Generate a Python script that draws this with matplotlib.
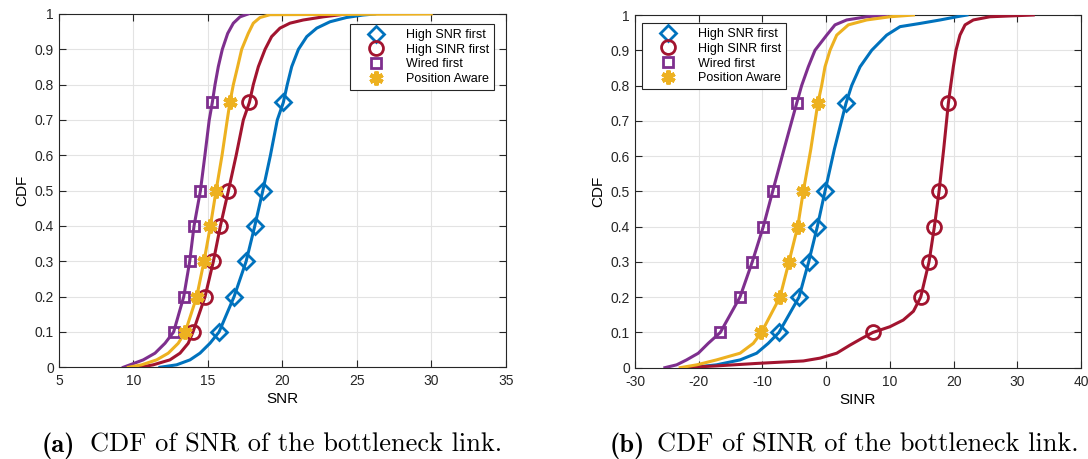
import matplotlib
matplotlib.use("Agg")
import matplotlib.pyplot as plt
import numpy as np

# CDF levels where markers are drawn
marker_levels = [0.1, 0.2, 0.3, 0.4, 0.5, 0.75]

# (a) SNR curves: x values and cdf values
snr_blue_x = [11.78, 12.9, 13.8, 14.47, 15.14, 15.75, 16.76, 17.57, 18.15, 18.69, 19.2, 19.66, 20.07,
              20.33, 20.63, 21.08, 21.64, 22.31, 23.2, 24.3, 25.4, 26.2]
snr_blue_y = [0.0, 0.007, 0.021, 0.04, 0.068, 0.1, 0.2, 0.3, 0.4, 0.5, 0.6, 0.7, 0.75,
              0.8, 0.851, 0.9, 0.936, 0.96, 0.978, 0.99, 0.997, 1.0]
snr_red_x = [10.44, 11.33, 12.45, 13.13, 13.68, 14.0, 14.81, 15.37, 15.84, 16.38, 16.9, 17.38, 17.79,
             18.05, 18.39, 18.84, 19.28, 19.84, 20.51, 21.4, 22.75, 24.3]
snr_red_y = [0.0, 0.007, 0.021, 0.04, 0.068, 0.1, 0.2, 0.3, 0.4, 0.5, 0.6, 0.7, 0.75,
             0.8, 0.851, 0.9, 0.936, 0.96, 0.974, 0.983, 0.992, 1.0]
snr_purple_x = [9.32, 9.77, 10.66, 11.45, 12.12, 12.7, 13.38, 13.78, 14.07, 14.5, 14.8, 15.09, 15.3,
                15.48, 15.7, 15.97, 16.33, 16.71, 17.16, 17.7]
snr_purple_y = [0.0, 0.007, 0.021, 0.04, 0.068, 0.1, 0.2, 0.3, 0.4, 0.5, 0.6, 0.7, 0.75,
                0.8, 0.851, 0.9, 0.945, 0.974, 0.992, 1.0]
snr_yellow_x = [9.66, 10.55, 11.56, 12.34, 13.01, 13.48, 14.25, 14.74, 15.17, 15.55, 15.95, 16.3, 16.48,
                16.71, 17.0, 17.27, 17.71, 18.05, 18.5, 19.17, 30.0]
snr_yellow_y = [0.0, 0.007, 0.021, 0.04, 0.068, 0.1, 0.2, 0.3, 0.4, 0.5, 0.6, 0.7, 0.75,
                0.8, 0.851, 0.9, 0.945, 0.974, 0.99, 0.998, 1.0]

# (b) SINR curves
sinr_blue_x = [-21.4, -17.2, -13.5, -10.9, -9.08, -7.4, -4.26, -2.74, -1.38, -0.18, 1.3, 3.12,
               4.01, 5.32, 7.15, 9.5, 11.6, 14.7, 17.9, 20.5, 22.1]
sinr_blue_y = [0.0, 0.008, 0.022, 0.041, 0.069, 0.1, 0.2, 0.3, 0.4, 0.5, 0.62, 0.75,
               0.8, 0.853, 0.9, 0.943, 0.967, 0.976, 0.986, 0.995, 1.0]
sinr_red_x = [-22.4, -17.2, -10.9, -3.58, -0.96, 1.66, 3.75, 5.6, 7.35, 10.0, 12.1, 13.7, 14.84,
              16.15, 16.99, 17.72, 18.45, 19.18, 19.55, 19.96, 20.38, 21.0, 21.8, 23.1, 25.7, 32.5]
sinr_red_y = [0.0, 0.005, 0.012, 0.019, 0.027, 0.041, 0.064, 0.083, 0.1, 0.116, 0.135, 0.16, 0.2,
              0.3, 0.4, 0.5, 0.62, 0.75, 0.8, 0.853, 0.9, 0.943, 0.972, 0.986, 0.995, 1.0]
sinr_purple_x = [-25.3, -23.46, -21.9, -20.06, -18.5, -16.6, -13.52, -11.59, -9.86, -8.39, -6.6, -4.62,
                 -3.84, -2.8, -1.75, 0.09, 1.39, 3.23, 6.37, 9.5]
sinr_purple_y = [0.0, 0.008, 0.022, 0.041, 0.069, 0.1, 0.2, 0.3, 0.4, 0.5, 0.62, 0.75,
                 0.8, 0.853, 0.9, 0.943, 0.972, 0.986, 0.995, 1.0]
sinr_yellow_x = [-22.9, -20.3, -17.2, -13.5, -11.43, -10.15, -7.24, -5.83, -4.46, -3.58, -2.4, -1.3,
                 -0.7, -0.18, 0.61, 1.66, 3.48, 6.37, 10.0, 13.7]
sinr_yellow_y = [0.0, 0.008, 0.022, 0.041, 0.069, 0.1, 0.2, 0.3, 0.4, 0.5, 0.62, 0.75,
                 0.8, 0.853, 0.9, 0.943, 0.972, 0.986, 0.995, 1.0]

series_names = ["High SNR first", "High SINR first", "Wired first", "Position Aware"]
colors = ["#0072BD", "#A2142F", "#7E2F8E", "#EDB120"]
markers = ["D", "o", "s", (6, 2, 0)]
msizes = [8, 10, 7, 10]
mews = [2.0, 2.0, 2.0, 3.0]

plt.rcParams['font.family'] = ['Liberation Sans', 'DejaVu Sans']
plt.rcParams['axes.unicode_minus'] = False

fig = plt.figure(figsize=(10.88, 4.59), dpi=100)
ax1 = fig.add_axes([0.0542, 0.1998, 0.4106, 0.7697])
ax2 = fig.add_axes([0.5836, 0.1990, 0.4100, 0.7683])


def draw_panel(ax, curves, xlim, xticks, xlabel, leg_loc, leg_anchor):
    for i, (cx, cy) in enumerate(curves):
        ax.plot(cx, cy, color=colors[i], lw=2.2, zorder=3, solid_joinstyle='round')
    for i, (cx, cy) in enumerate(curves):
        mx = np.interp(marker_levels, cy, cx)
        ax.plot(mx, marker_levels, linestyle='none', marker=markers[i],
                markersize=msizes[i], markerfacecolor='none' if i < 3 else colors[i],
                markeredgecolor=colors[i], markeredgewidth=mews[i],
                label=series_names[i], zorder=4)
    ax.set_xlim(xlim)
    ax.set_ylim(0, 1)
    ax.set_xticks(xticks)
    ax.set_yticks(np.arange(0, 1.01, 0.1))
    ax.set_yticklabels(['0'] + ['%.1f' % v for v in np.arange(0.1, 0.95, 0.1)] + ['1'])
    ax.grid(True, color='#e3e3e3', lw=0.8)
    ax.set_axisbelow(True)
    ax.tick_params(direction='in', top=True, right=True, length=5, width=0.8,
                   labelsize=10, colors='#262626')
    ax.tick_params(axis='x', pad=5)
    for s in ax.spines.values():
        s.set_color('#262626')
        s.set_linewidth(0.8)
    ax.set_xlabel(xlabel, fontsize=11, labelpad=3)
    ax.set_ylabel('CDF', fontsize=11, labelpad=4)
    leg = ax.legend(loc=leg_loc, bbox_to_anchor=leg_anchor, borderaxespad=0,
                    fontsize=9, fancybox=False, framealpha=1, edgecolor='#262626',
                    handletextpad=0.7, borderpad=0.4, labelspacing=0.22, handlelength=3.4)
    leg.get_frame().set_linewidth(0.8)


draw_panel(ax1,
           [(snr_blue_x, snr_blue_y), (snr_red_x, snr_red_y),
            (snr_purple_x, snr_purple_y), (snr_yellow_x, snr_yellow_y)],
           (5, 35), range(5, 36, 5), 'SNR', 'upper right', (0.974, 0.972))
draw_panel(ax2,
           [(sinr_blue_x, sinr_blue_y), (sinr_red_x, sinr_red_y),
            (sinr_purple_x, sinr_purple_y), (sinr_yellow_x, sinr_yellow_y)],
           (-30, 40), range(-30, 41, 10), 'SINR', 'upper left', (0.015, 0.977))

# captions
fig.text(0.0386, 0.016, '(a)', fontsize=19, family='cmb10', va='baseline')
fig.text(0.0827, 0.016, 'CDF of SNR of the bottleneck link.', fontsize=19, family='cmr10', va='baseline')
fig.text(0.5607, 0.016, '(b)', fontsize=19, family='cmb10', va='baseline')
fig.text(0.6039, 0.016, 'CDF of SINR of the bottleneck link.', fontsize=19, family='cmr10', va='baseline')

fig.savefig('out.png', dpi=100)
